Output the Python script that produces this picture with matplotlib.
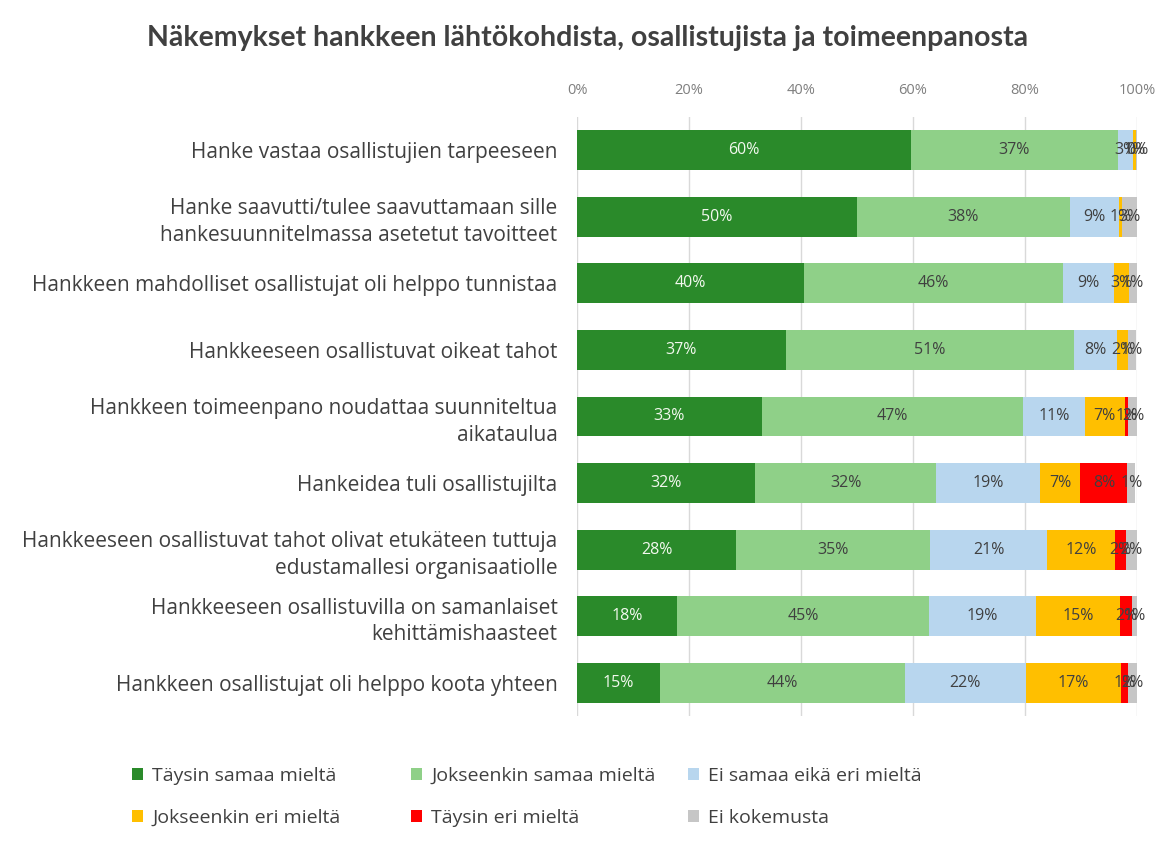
import matplotlib
matplotlib.use("Agg")
import matplotlib.pyplot as plt
from matplotlib.patches import Patch
import numpy as np

plt.rcParams['font.family'] = ['Open Sans', 'DejaVu Sans']

title = "Näkemykset hankkeen lähtökohdista, osallistujista ja toimeenpanosta"

categories = [
    "Hanke vastaa osallistujien tarpeeseen",
    "Hanke saavutti/tulee saavuttamaan sille\nhankesuunnitelmassa asetetut tavoitteet",
    "Hankkeen mahdolliset osallistujat oli helppo tunnistaa",
    "Hankkeeseen osallistuvat oikeat tahot",
    "Hankkeen toimeenpano noudattaa suunniteltua\naikataulua",
    "Hankeidea tuli osallistujilta",
    "Hankkeeseen osallistuvat tahot olivat etukäteen tuttuja\nedustamallesi organisaatiolle",
    "Hankkeeseen osallistuvilla on samanlaiset\nkehittämishaasteet",
    "Hankkeen osallistujat oli helppo koota yhteen",
]

series_names = [
    "Täysin samaa mieltä",
    "Jokseenkin samaa mieltä",
    "Ei samaa eikä eri mieltä",
    "Jokseenkin eri mieltä",
    "Täysin eri mieltä",
    "Ei kokemusta",
]

taysin_samaa = [59.6, 50.0, 40.5, 37.3, 33.0, 31.8, 28.4, 17.9, 14.8]
jokseenkin_samaa = [37.0, 38.0, 46.3, 51.4, 46.6, 32.3, 34.6, 45.0, 43.8]
ei_samaa_eika_eri = [2.7, 8.8, 9.1, 7.7, 11.1, 18.6, 21.0, 19.1, 21.5]
jokseenkin_eri = [0.6, 0.6, 2.7, 2.0, 7.1, 7.2, 12.0, 15.0, 17.0]
taysin_eri = [0.0, 0.0, 0.0, 0.0, 0.6, 8.4, 2.0, 2.1, 1.3]
ei_kokemusta = [0.3, 2.6, 1.4, 1.4, 1.8, 1.4, 2.1, 0.9, 1.6]

series = [taysin_samaa, jokseenkin_samaa, ei_samaa_eika_eri,
          jokseenkin_eri, taysin_eri, ei_kokemusta]
colors = ["#2a8a2a", "#8fd088", "#b8d6ee", "#ffbf00", "#ff0000", "#c6c6c6"]
label_colors = ["#f2f8ee", "#404040", "#404040", "#404040", "#404040", "#404040"]

xticks = [0, 20, 40, 60, 80, 100]
xticklabels = ["0%", "20%", "40%", "60%", "80%", "100%"]

W, H = 1157, 842
fig = plt.figure(figsize=(W / 100, H / 100), dpi=100)
ax = fig.add_axes([577 / W, 1 - 716 / H, (1137 - 577) / W, (716 - 117) / H])

n = len(categories)
y = np.arange(n)
left = np.zeros(n)
for vals, col, lc in zip(series, colors, label_colors):
    vals = np.array(vals)
    ax.barh(y, vals, left=left, height=0.6, color=col, edgecolor='none', zorder=2)
    for yi, (l, v) in enumerate(zip(left, vals)):
        if v > 0:
            ax.text(l + v / 2, yi, f"{v:.0f}%", ha='center', va='center',
                    fontsize=11.5, color=lc, zorder=3)
    left = left + vals

ax.set_xlim(0, 100)
ax.set_ylim(n - 0.5, -0.5)
ax.set_yticks(y)
ax.set_yticklabels(categories, fontsize=15, color="#404040", linespacing=1.35)
ax.tick_params(axis='y', length=0, pad=14)
ax.xaxis.tick_top()
ax.set_xticks(xticks)
ax.set_xticklabels(xticklabels, fontsize=10.5, color="#7f7f7f")
ax.tick_params(axis='x', length=0, pad=14)
ax.grid(axis='x', color="#d9d9d9", linewidth=1, zorder=0)
for s in ax.spines.values():
    s.set_visible(False)

fig.text(0.5 * (148 + 1027) / W, 1 - 38 / H, title, ha='center', va='center',
         fontsize=20.5, fontweight='bold', color="#404040",
         family=['Lato', 'DejaVu Sans'])

handles = [Patch(facecolor=c, edgecolor='none') for c in colors]
col_x = [124, 403, 680]
for c in range(3):
    idx = [c, c + 3]
    leg = fig.legend([handles[i] for i in idx], [series_names[i] for i in idx],
                     loc='center left', bbox_to_anchor=(col_x[c] / W, 1 - 797 / H),
                     ncol=1, frameon=False, fontsize=14, handlelength=0.6,
                     handleheight=0.6, handletextpad=0.45, labelspacing=1.25,
                     borderaxespad=0)
    for t in leg.get_texts():
        t.set_color("#404040")

fig.savefig("out.png", dpi=100)
